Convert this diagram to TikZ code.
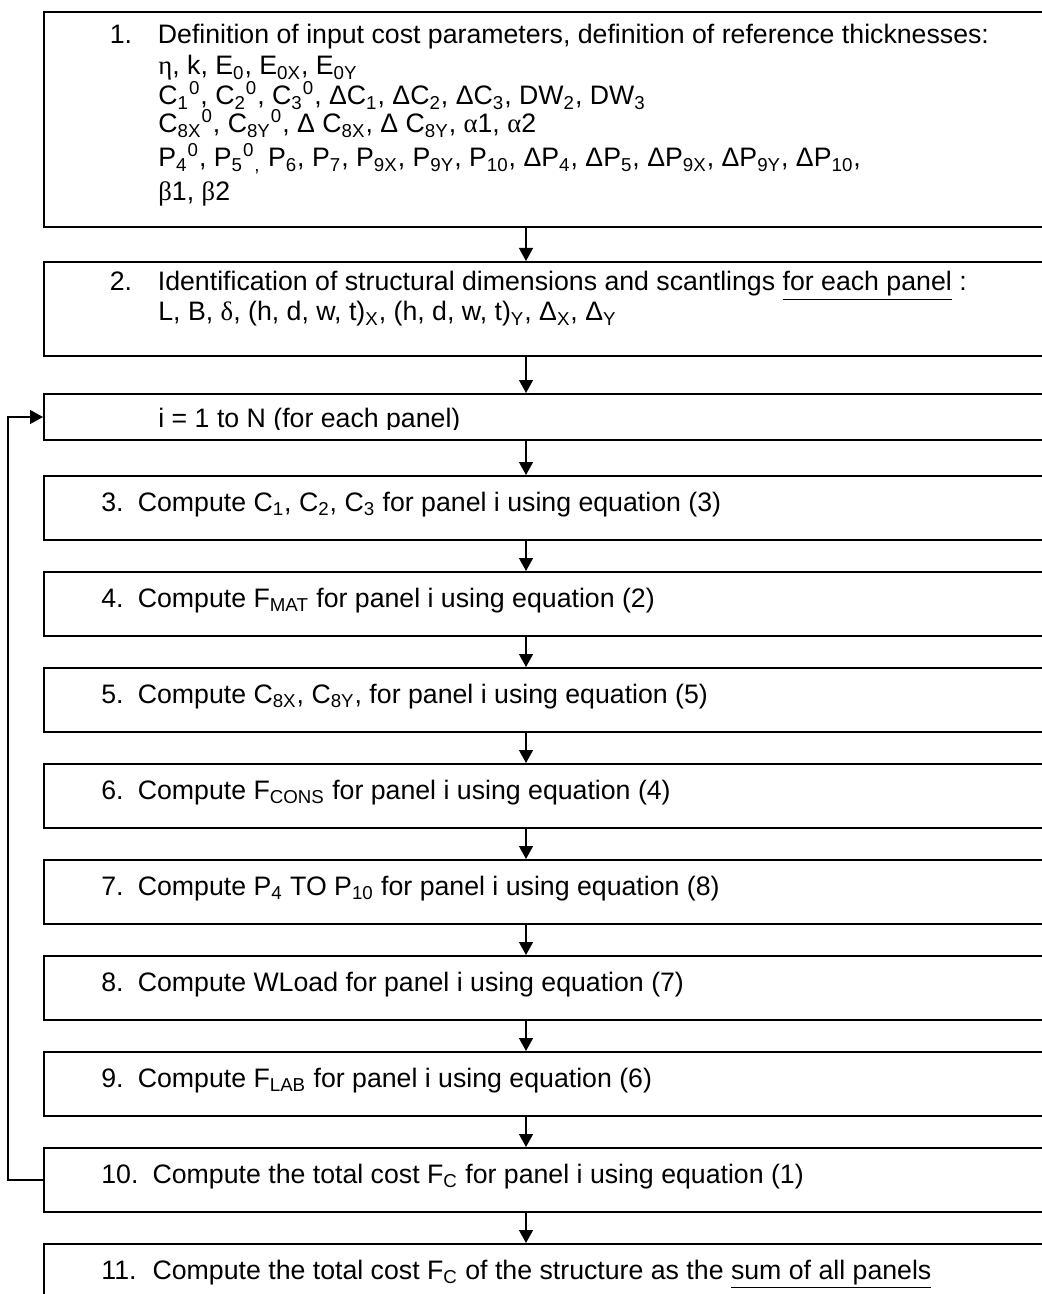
\documentclass[tikz,border=0pt]{standalone}
\usepackage{fontspec}
\setmainfont{Liberation Sans}
\newfontfamily\greekf{Liberation Serif}
\usetikzlibrary{arrows.meta}

\newcommand{\sbs}[1]{\textsubscript{#1}}
\newcommand{\sps}[1]{\textsuperscript{#1}}
\newcommand{\grk}[1]{{\greekf #1}}

\begin{document}
\begin{tikzpicture}[x=0.5pt,y=-0.5pt,
    box/.style={draw,line width=1pt,anchor=north west,minimum width=508.5pt,inner sep=0pt},
    txt/.style={anchor=base west,inner sep=0pt,font=\fontsize{13.35}{16}\selectfont},
    flow/.style={line width=0.65pt,-{Triangle[length=6.5pt,width=7pt]}}]

  \useasboundingbox (0,0) rectangle (1042,1294);
  \clip (0,0) rectangle (1042,1294);

  % boxes
  \node[box,minimum height=107.5pt] (b1) at (43,11) {};
  \node[box,minimum height=47pt] (b2) at (43,261) {};
  \node[box,minimum height=23pt] (bi) at (43,393) {};
  \foreach \k in {3,...,11}
    \node[box,minimum height=32pt] (b\k) at (43,{475+96*(\k-3)}) {};

  % step 1
  \node[txt] (t1a) at (109.5,44) {\makebox[24pt][l]{1.}Definition of input cost parameters, definition of reference thicknesses:};
  \node[txt] (t1b) at (158,75) {\grk{η}, k, E\sbs{0}, E\sbs{0X}, E\sbs{0Y}};
  \node[txt] (t1c) at (158,105) {C\sbs{1}\sps{0}, C\sbs{2}\sps{0}, C\sbs{3}\sps{0}, ΔC\sbs{1}, ΔC\sbs{2}, ΔC\sbs{3}, DW\sbs{2}, DW\sbs{3}};
  \node[txt] (t1d) at (158,133) {C\sbs{8X}\sps{0}, C\sbs{8Y}\sps{0}, Δ C\sbs{8X}, Δ C\sbs{8Y}, \grk{α}1, \grk{α}2};
  \node[txt] (t1e) at (158,167) {P\sbs{4}\sps{0}, P\sbs{5}\sps{0}\sbs{,} P\sbs{6}, P\sbs{7}, P\sbs{9X}, P\sbs{9Y}, P\sbs{10}, ΔP\sbs{4}, ΔP\sbs{5}, ΔP\sbs{9X}, ΔP\sbs{9Y}, ΔP\sbs{10},};
  \node[txt] (t1f) at (158,201) {\grk{β}1, \grk{β}2};

  % step 2
  \node[txt] (t2a) at (109.5,291) {\makebox[24pt][l]{2.}Identification of structural dimensions and scantlings \underline{for each panel} :};
  \node[txt] (t2b) at (158,321) {L, B, \grk{δ}, (h, d, w, t)\sbs{X}, (h, d, w, t)\sbs{Y}, Δ\sbs{X}, Δ\sbs{Y}};

  % loop head
  \begin{scope}
    \clip (43,393) rectangle (1042,429);
    \node[txt] (ti) at (158,427) {i = 1 to N (for each panel)};
  \end{scope}

  % steps 3 to 11
  \node[txt] (t3) at (101,511) {\makebox[18.2pt][l]{3.}Compute C\sbs{1}, C\sbs{2}, C\sbs{3} for panel i using equation (3)};
  \node[txt] (t4) at (101,607) {\makebox[18.2pt][l]{4.}Compute F\sbs{MAT} for panel i using equation (2)};
  \node[txt] (t5) at (101,703) {\makebox[18.2pt][l]{5.}Compute C\sbs{8X}, C\sbs{8Y}, for panel i using equation (5)};
  \node[txt] (t6) at (101,799) {\makebox[18.2pt][l]{6.}Compute F\sbs{CONS} for panel i using equation (4)};
  \node[txt] (t7) at (101,895) {\makebox[18.2pt][l]{7.}Compute P\sbs{4} TO P\sbs{10} for panel i using equation (8)};
  \node[txt] (t8) at (101,991) {\makebox[18.2pt][l]{8.}Compute WLoad for panel i using equation (7)};
  \node[txt] (t9) at (101,1087) {\makebox[18.2pt][l]{9.}Compute F\sbs{LAB} for panel i using equation (6)};
  \node[txt] (t10) at (101,1183) {\makebox[25.6pt][l]{10.}Compute the total cost F\sbs{C} for panel i using equation (1)};
  \node[txt] (t11) at (101,1279) {\makebox[25.6pt][l]{11.}Compute the total cost F\sbs{C} of the structure as the \underline{sum of all panels}};

  % connectors
  \foreach \a/\b in {b1/b2,b2/bi,bi/b3,b3/b4,b4/b5,b5/b6,b6/b7,b7/b8,b8/b9,b9/b10,b10/b11}
    \draw[flow] ([xshift=241.5pt]\a.south west) -- ([xshift=241.5pt]\b.north west);
  \draw[flow] (b10.west) -- ++(-35,0) |- (bi.west);

\end{tikzpicture}
\end{document}
